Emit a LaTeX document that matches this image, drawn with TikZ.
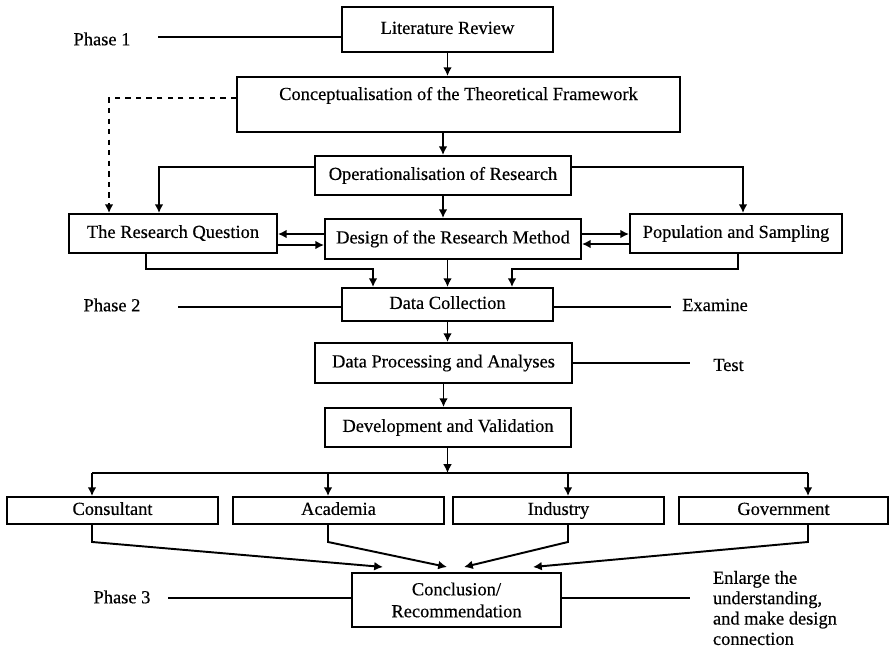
\documentclass[tikz,border=0pt]{standalone}
\usepackage{fontspec}
\setmainfont{Liberation Serif}[FakeBold=0.4]
\usetikzlibrary{arrows.meta}

\begin{document}
\begin{tikzpicture}[->,>={Latex[length=5pt,width=5pt]},line width=1.1pt,x=0.02cm,y=-0.02cm]
  \tikzstyle{box}=[draw,rectangle,inner sep=1pt,font=\fontsize{10.5}{12.5}\selectfont]
  \tikzstyle{one}=[box,text height=1.6ex,text depth=0.5ex]
  \tikzstyle{note}=[inner sep=0pt,font=\fontsize{10.5}{11.6}\selectfont]

  \useasboundingbox (0,0) rectangle (889,647);

  % main column
  \node[one,minimum width=4.22cm,minimum height=0.9cm]  (lit)     at (447.5,29.5)  {Literature Review};
  \node[box,minimum width=8.86cm,minimum height=1.1cm,align=center] (concept) at (458.5,104.5)
        {Conceptualisation of the Theoretical Framework\\ \mbox{}};
  \node[one,minimum width=5.12cm,minimum height=0.78cm] (oper)    at (443,175.5)   {Operationalisation of Research};
  \node[one,minimum width=4.16cm,minimum height=0.78cm] (question) at (173,233.5)  {The Research Question};
  \node[one,minimum width=5.12cm,minimum height=0.8cm]  (design)  at (453,239)     {Design of the Research Method};
  \node[one,minimum width=4.24cm,minimum height=0.78cm] (popul)   at (736,233.5)   {Population and Sampling};
  \node[one,minimum width=4.22cm,minimum height=0.66cm] (collect) at (447.5,304.5) {Data Collection};
  \node[one,minimum width=5.14cm,minimum height=0.8cm]  (process) at (443.5,363)   {Data Processing and Analyses};
  \node[one,minimum width=4.92cm,minimum height=0.78cm] (develop) at (448,427.5)   {Development and Validation};

  % stakeholders
  \node[one,minimum width=4.22cm,minimum height=0.54cm] (consult) at (112.5,510.5) {Consultant};
  \node[one,minimum width=4.22cm,minimum height=0.54cm] (academ)  at (338.5,510.5) {Academia};
  \node[one,minimum width=4.22cm,minimum height=0.54cm] (indus)   at (558.5,510.5) {Industry};
  \node[one,minimum width=4.18cm,minimum height=0.54cm] (govern)  at (783.5,510.5) {Government};

  \node[box,minimum width=4.18cm,minimum height=1.08cm,align=center] (concl) at (456.5,600)
        {Conclusion/\\Recommendation};

  % side labels
  \node[note] (phase1) at (102,39)  {Phase 1};
  \node[note] (phase2) at (112,305) {Phase 2};
  \node[note] (phase3) at (122,597) {Phase 3};
  \node[note] (examine) at (715,305) {Examine};
  \node[note] (test)    at (728.5,365) {Test};
  \node[note,anchor=north west,align=left] (enlarge) at (712,570)
        {Enlarge the\\understanding,\\and make design\\connection};

  \coordinate (p1) at (158,37);
  \coordinate (p2) at (178,307);
  \coordinate (p3) at (168,598);
  \coordinate (e1) at (671,307);
  \coordinate (t1) at (690,363);
  \coordinate (g1) at (690,598);

  \draw[-] (p1) -- (p1 -| lit.west);
  \draw[-] (p2) -- (p2 -| collect.west);
  \draw[-] (p3) -- (p3 -| concl.west);
  \draw[-] (e1 -| collect.east) -- (e1);
  \draw[-] (t1 -| process.east) -- (t1);
  \draw[-] (g1 -| concl.east) -- (g1);

  % phase 1 flow
  \draw (lit.south) -- (lit.south |- concept.north);
  \draw (oper.north |- concept.south) -- (oper.north);
  \draw[dashed] ([yshift=0.13cm]concept.west) -| ([xshift=-1.28cm]question.north);
  \draw ([yshift=0.17cm]oper.west) -| ([xshift=-0.28cm]question.north);
  \draw ([yshift=0.17cm]oper.east) -| ([xshift=0.14cm]popul.north);
  \draw (oper.south) -- (oper.south |- design.north);

  \draw ([yshift=0.1cm]design.west) -- ([yshift=0.1cm]design.west -| question.east);
  \draw ([yshift=-0.12cm]design.west -| question.east) -- ([yshift=-0.12cm]design.west);
  \draw ([yshift=0.1cm]design.east) -- ([yshift=0.1cm]design.east -| popul.west);
  \draw ([yshift=-0.1cm]design.east -| popul.west) -- ([yshift=-0.1cm]design.east);

  % into data collection
  \draw ([xshift=-0.54cm]question.south) -- ++(0,15) -| ([xshift=-1.49cm]collect.north);
  \draw (collect.north |- design.south) -- (collect.north);
  \draw ([xshift=0.04cm]popul.south) -- ++(0,15) -| ([xshift=1.29cm]collect.north);

  % phase 2 flow
  \draw (collect.south) -- (collect.south |- process.north);
  \draw (process.south) -- (process.south |- develop.north);

  \coordinate (k1) at (92,473);
  \coordinate (k2) at (328,473);
  \coordinate (k3) at (568,473);
  \coordinate (k4) at (808,473);
  \draw (develop.south -| collect.south) -- (collect.south |- k1);
  \draw[-] (k1) -- (k4);
  \foreach \k/\b in {k1/consult,k2/academ,k3/indus,k4/govern}
    \draw (\k) -- (\k |- \b.north);

  % into the conclusion
  \coordinate (c1) at (383,567);
  \coordinate (c2) at (447,567);
  \coordinate (c3) at (464,567);
  \coordinate (c4) at (533,567);
  \foreach \k/\b/\c in {k1/consult/c1,k2/academ/c2,k3/indus/c3,k4/govern/c4}
    \draw (\k |- \b.south) -- ++(0,17) -- (\c);

\end{tikzpicture}
\end{document}
